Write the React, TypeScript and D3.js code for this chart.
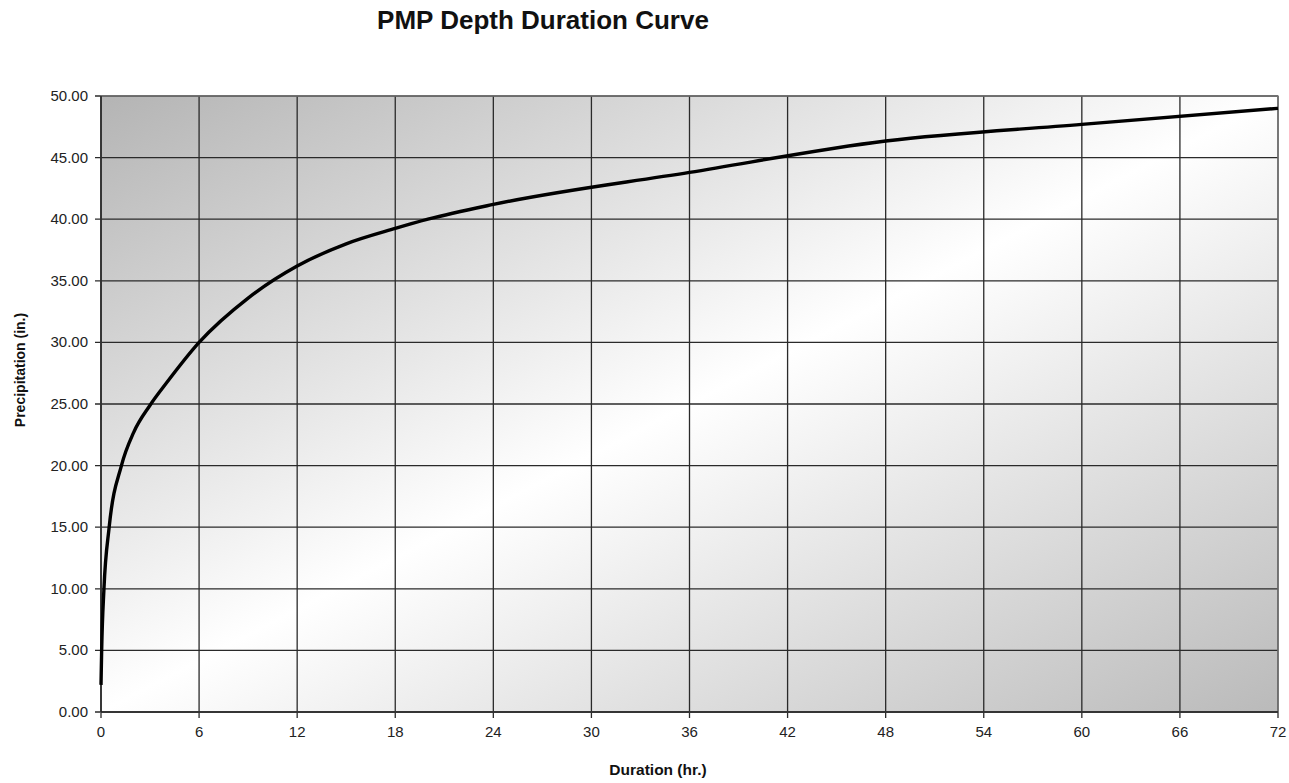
import React from "react";
import * as d3 from "d3";

const durations = [0, 0.04, 0.18, 0.5, 1.25, 2, 3, 4, 6, 9, 12, 15, 18, 20, 24, 36, 48, 60, 72];
const depths = [2.2, 5.0, 10.0, 15.0, 20.0, 22.7, 24.9, 26.7, 30.0, 33.6, 36.2, 38.0, 39.25, 40.0, 41.2, 43.8, 46.35, 47.7, 49.0];
const xTicks = [0, 6, 12, 18, 24, 30, 36, 42, 48, 54, 60, 66, 72];
const yTicks = [0, 5, 10, 15, 20, 25, 30, 35, 40, 45, 50];
const title = "PMP Depth Duration Curve";
const xTitle = "Duration (hr.)";
const yTitle = "Precipitation (in.)";

const W = 1289, H = 783;
const L = 101, R = 1278, T = 96, B = 712;

export default function App() {
  const x = d3.scaleLinear().domain([0, 72]).range([L, R]);
  const y = d3.scaleLinear().domain([0, 50]).range([B, T]);
  const pts: [number, number][] = durations.map((d, i) => [d, depths[i]]);
  const line = d3
    .line<[number, number]>()
    .x((d) => x(d[0]))
    .y((d) => y(d[1]))
    .curve(d3.curveMonotoneX);
  const font = "'Liberation Sans', Arial, sans-serif";
  return (
    <div style={{ position: "fixed", left: 0, top: 0 }}>
      <svg width={W} height={H} style={{ display: "block", background: "#fff" }}>
        <defs>
          <linearGradient id="bg" x1="0" y1="0" x2="1" y2="1">
            <stop offset="0" stopColor="#b4b4b4" />
            <stop offset="0.5" stopColor="#ffffff" />
            <stop offset="1" stopColor="#bababa" />
          </linearGradient>
        </defs>
        <text x={543} y={29} textAnchor="middle" fontFamily={font} fontWeight="bold" fontSize={26} fill="#111">
          {title}
        </text>
        <rect x={L} y={T} width={R - L} height={B - T} fill="url(#bg)" />
        {yTicks.map((t) => (
          <g key={"y" + t}>
            <line x1={L - 6} x2={R} y1={y(t)} y2={y(t)} stroke="#2a2a2a" strokeWidth={1.3} />
            <text x={88} y={y(t) + 5} textAnchor="end" fontFamily={font} fontSize={15} fill="#222">
              {t.toFixed(2)}
            </text>
          </g>
        ))}
        {xTicks.map((t) => (
          <g key={"x" + t}>
            <line x1={x(t)} x2={x(t)} y1={T} y2={B + 6} stroke="#2a2a2a" strokeWidth={1.3} />
            <text x={x(t)} y={737} textAnchor="middle" fontFamily={font} fontSize={15} fill="#222">
              {t}
            </text>
          </g>
        ))}
        <rect x={L} y={T} width={R - L} height={B - T} fill="none" stroke="#7a7a7a" strokeWidth={1.3} />
        <line x1={L} x2={R} y1={B} y2={B} stroke="#222" strokeWidth={1.5} />
        <line x1={L} x2={L} y1={T} y2={B} stroke="#222" strokeWidth={1.5} />
        <path d={line(pts) || ""} fill="none" stroke="#000" strokeWidth={3.4} strokeLinejoin="round" />
        <text x={658} y={775} textAnchor="middle" fontFamily={font} fontWeight="bold" fontSize={15.5} fill="#111">
          {xTitle}
        </text>
        <text
          transform={`translate(25, 370) rotate(-90)`}
          textAnchor="middle"
          fontFamily={font}
          fontWeight="bold"
          fontSize={14}
          fill="#111"
        >
          {yTitle}
        </text>
      </svg>
    </div>
  );
}
